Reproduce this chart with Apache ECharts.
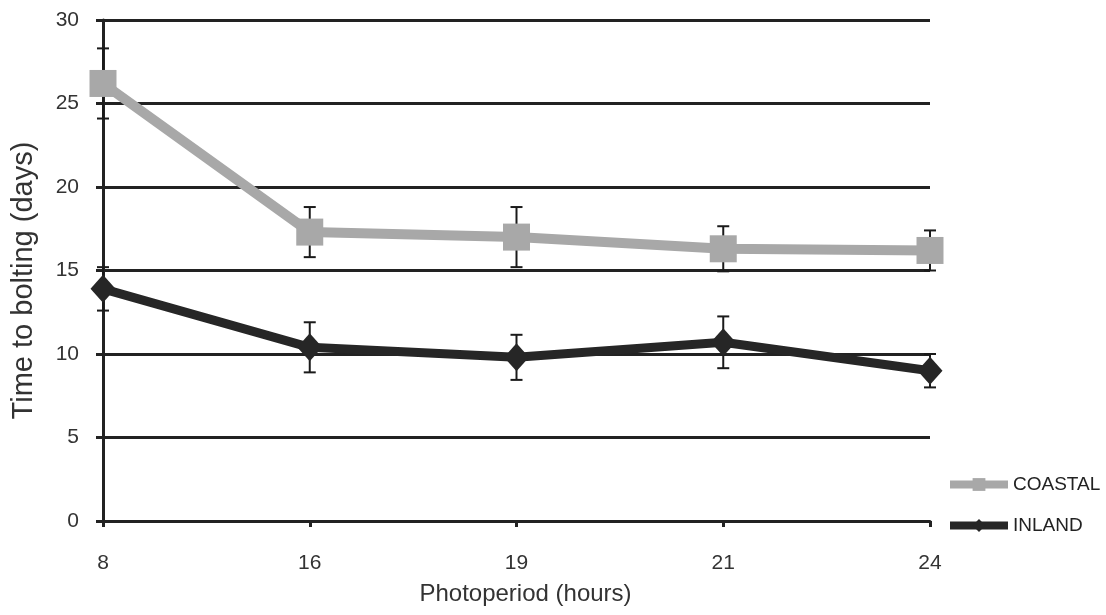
<!DOCTYPE html>
<html>
<head>
<meta charset="utf-8">
<script src="https://cdn.jsdelivr.net/npm/echarts@6/dist/echarts.min.js"></script>
<style>
  html, body { margin: 0; padding: 0; background: #fff; }
  #chart { width: 1106px; height: 615px; }
</style>
</head>
<body>
<div id="chart"></div>
<script>
// Photoperiod treatments (hours)
const photoperiods = ['8', '16', '19', '21', '24'];

// Mean time to bolting (days) and ± error
const coastalMean = [26.2, 17.3, 17.0, 16.3, 16.2];
const coastalErr  = [2.1, 1.5, 1.8, 1.35, 1.2];
const inlandMean  = [13.9, 10.4, 9.8, 10.7, 9.0];
const inlandErr   = [1.3, 1.5, 1.35, 1.55, 1.0];

const yTicks = { min: 0, max: 30, interval: 5 };

const fontFam = '"Liberation Sans", Arial, sans-serif';
const ink = '#222';
const coastalColor = '#a8a8a8';
const inlandColor = '#262626';

function errorRows(mean, err) {
  return mean.map((m, i) => [i, +(m - err[i]).toFixed(2), +(m + err[i]).toFixed(2)]);
}

function renderErrorBar(params, api) {
  const x = api.value(0);
  const lo = api.coord([x, api.value(1)]);
  const hi = api.coord([x, api.value(2)]);
  const half = 6;
  const style = { stroke: '#1a1a1a', lineWidth: 2 };
  return {
    type: 'group',
    children: [
      { type: 'line', shape: { x1: lo[0], y1: lo[1], x2: hi[0], y2: hi[1] }, style },
      { type: 'line', shape: { x1: hi[0] - half, y1: hi[1], x2: hi[0] + half, y2: hi[1] }, style },
      { type: 'line', shape: { x1: lo[0] - half, y1: lo[1], x2: lo[0] + half, y2: lo[1] }, style }
    ]
  };
}

const chart = echarts.init(document.getElementById('chart'), null, { renderer: 'canvas' });

chart.setOption({
  backgroundColor: '#ffffff',
  animation: false,
  grid: { left: 103, right: 176, top: 20, bottom: 94, containLabel: false },
  legend: {
    orient: 'vertical',
    left: 941,
    top: 470,
    itemWidth: 58,
    itemHeight: 16,
    itemGap: 22,
    lineStyle: { width: 8 },
    textStyle: { fontFamily: fontFam, fontSize: 19, color: ink },
    data: ['COASTAL', 'INLAND']
  },
  xAxis: {
    type: 'category',
    data: photoperiods,
    boundaryGap: false,
    name: 'Photoperiod (hours)',
    nameLocation: 'middle',
    nameGap: 61,
    nameTextStyle: { fontFamily: fontFam, fontSize: 24, color: '#333', padding: [0, 0, 0, 18] },
    axisLine: { lineStyle: { color: ink, width: 3 } },
    axisTick: { show: true, alignWithLabel: true, length: 6, lineStyle: { color: ink, width: 3 } },
    axisLabel: { fontFamily: fontFam, fontSize: 21, color: '#333', margin: 32 },
    splitLine: { show: false }
  },
  yAxis: {
    type: 'value',
    min: yTicks.min,
    max: yTicks.max,
    interval: yTicks.interval,
    name: 'Time to bolting (days)',
    nameLocation: 'middle',
    nameGap: 65,
    nameRotate: 90,
    nameTextStyle: { fontFamily: fontFam, fontSize: 29, color: '#333', padding: [0, 20, 0, 0] },
    axisLine: { show: true, lineStyle: { color: ink, width: 3 } },
    axisTick: { show: true, length: 7, lineStyle: { color: ink, width: 3 } },
    axisLabel: { fontFamily: fontFam, fontSize: 21, color: '#333', margin: 24 },
    splitLine: { show: true, lineStyle: { color: ink, width: 3 } }
  },
  series: [
    {
      name: 'coastal-err',
      type: 'custom',
      renderItem: renderErrorBar,
      data: errorRows(coastalMean, coastalErr),
      encode: { x: 0, y: [1, 2] },
      z: 3,
      silent: true
    },
    {
      name: 'inland-err',
      type: 'custom',
      renderItem: renderErrorBar,
      data: errorRows(inlandMean, inlandErr),
      encode: { x: 0, y: [1, 2] },
      z: 3,
      silent: true
    },
    {
      name: 'COASTAL',
      type: 'line',
      data: coastalMean,
      symbol: 'rect',
      symbolSize: 27,
      lineStyle: { color: coastalColor, width: 10 },
      itemStyle: { color: coastalColor },
      z: 5
    },
    {
      name: 'INLAND',
      type: 'line',
      data: inlandMean,
      symbol: 'diamond',
      symbolSize: [25, 28],
      lineStyle: { color: inlandColor, width: 9 },
      itemStyle: { color: inlandColor },
      z: 5
    }
  ]
});
</script>
</body>
</html>
